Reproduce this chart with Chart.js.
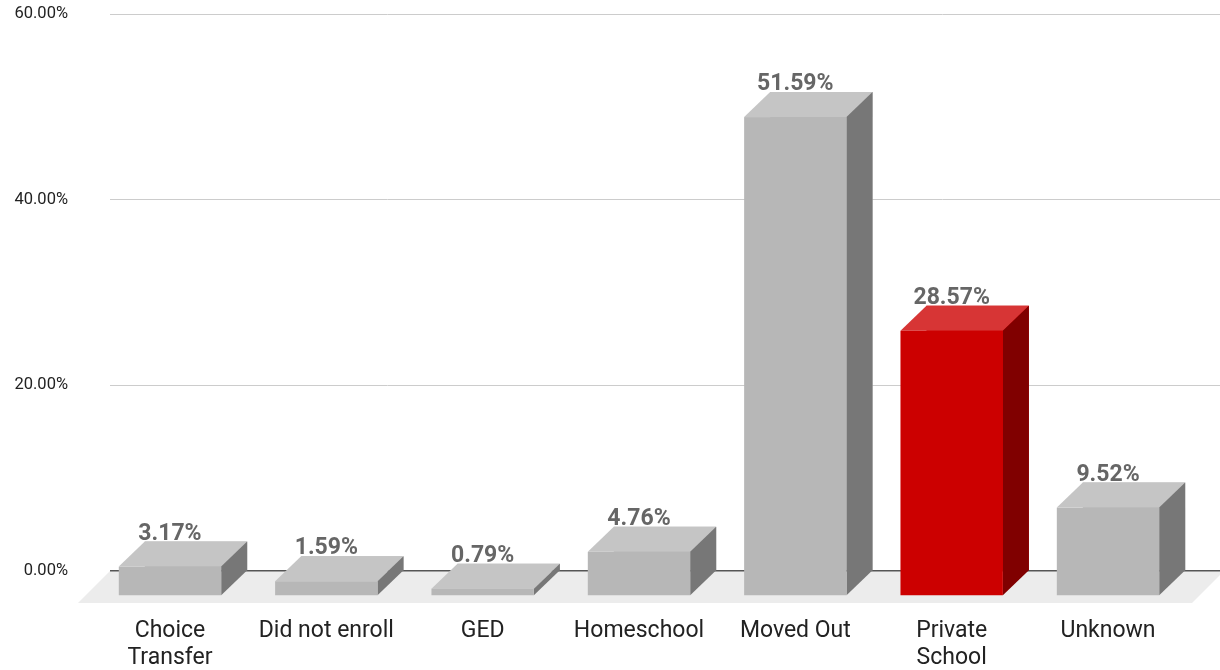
<!DOCTYPE html>
<html>
<head>
<meta charset="utf-8">
<script src="https://cdn.jsdelivr.net/npm/chart.js@4.4.1/dist/chart.umd.min.js"></script>
<style>
    html, body { margin: 0; padding: 0; background: #fff; }
    #wrap { width: 1220px; height: 670px; }
</style>
</head>
<body>
<div id="wrap"><canvas id="leavers_chart"></canvas></div>
<script>
// data
const categories = [['Choice', 'Transfer'], 'Did not enroll', 'GED', 'Homeschool', 'Moved Out', ['Private', 'School'], 'Unknown'];
const shares = [3.17, 1.59, 0.79, 4.76, 51.59, 28.57, 9.52];
const highlighted = [false, false, false, false, false, true, false];
const y_ticks = [0, 20, 40, 60];

// faces of the 3d boxes
const grey_faces = { front: '#b7b7b7', top: '#c5c5c5', side: '#777777' };
const red_faces = { front: '#cc0000', top: '#d73535', side: '#800000' };
const depth_x = 26, depth_y = 25;
const floor_depth = 32;

var floor_plugin = {
    id: 'floor',
    beforeDraw(chart) {
        const ctx = chart.ctx;
        const area = chart.chartArea;
        ctx.save();
        ctx.fillStyle = '#fff';
        ctx.fillRect(0, 0, chart.width, chart.height);
        ctx.fillStyle = '#ececec';
        ctx.beginPath();
        ctx.moveTo(area.left, area.bottom);
        ctx.lineTo(area.right + 4, area.bottom);
        ctx.lineTo(area.right + 4 - floor_depth, area.bottom + floor_depth);
        ctx.lineTo(area.left - floor_depth, area.bottom + floor_depth);
        ctx.closePath();
        ctx.fill();
        ctx.restore();
    }
};

var box_plugin = {
    id: 'boxes',
    afterDatasetsDraw(chart) {
        const ctx = chart.ctx;
        const bars = chart.getDatasetMeta(0).data;
        ctx.save();
        for (var i = 0; i < bars.length; i++) {
            const b = bars[i].getProps(['x', 'y', 'base', 'width'], true);
            const faces = highlighted[i] ? red_faces : grey_faces;
            const l = b.x - b.width / 2, r = b.x + b.width / 2;
            const t = b.y, bot = b.base;
            // top
            ctx.fillStyle = faces.top;
            ctx.beginPath();
            ctx.moveTo(l - depth_x, t + depth_y);
            ctx.lineTo(l, t);
            ctx.lineTo(r, t);
            ctx.lineTo(r - depth_x, t + depth_y);
            ctx.closePath();
            ctx.fill();
            // side
            ctx.fillStyle = faces.side;
            ctx.beginPath();
            ctx.moveTo(r - depth_x, t + depth_y);
            ctx.lineTo(r, t);
            ctx.lineTo(r, bot);
            ctx.lineTo(r - depth_x, bot + depth_y);
            ctx.closePath();
            ctx.fill();
            // front
            ctx.fillStyle = faces.front;
            ctx.fillRect(l - depth_x, t + depth_y, r - l, bot - t);
            // value label
            ctx.fillStyle = '#666666';
            ctx.font = 'bold 23px Roboto';
            ctx.textAlign = 'center';
            ctx.textBaseline = 'alphabetic';
            ctx.fillText(shares[i].toFixed(2) + '%', b.x - depth_x, t - 2);
        }
        ctx.restore();
    }
};

const ctx = document.getElementById('leavers_chart');
var leavers_chart = new Chart(ctx, {
    type: 'bar',
    data: {
        datasets: [{
            data: shares.map((v, i) => ({ x: i, y: v })),
            backgroundColor: highlighted.map(h => h ? red_faces.front : grey_faces.front),
            borderWidth: 0,
            barPercentage: 0.655,
            categoryPercentage: 1
        }]
    },
    options: {
        responsive: true,
        maintainAspectRatio: false,
        animation: false,
        layout: {
            padding: { top: 14, left: 13, right: 0, bottom: 0 }
        },
        scales: {
            x: {
                type: 'linear',
                offset: false,
                min: -0.55,
                max: 6.55,
                afterBuildTicks: axis => { axis.ticks = categories.map((c, i) => ({ value: i })); },
                afterFit: axis => {
                    axis.height = 99;
                    axis.paddingLeft = 0;
                    axis.paddingRight = 0;
                },
                grid: { display: false, drawTicks: false },
                border: { display: false },
                ticks: {
                    autoSkip: false,
                    maxRotation: 0,
                    padding: 47,
                    labelOffset: -depth_x,
                    color: '#222222',
                    font: { family: 'Roboto', size: 23, lineHeight: 1.18 },
                    callback: v => categories[v]
                }
            },
            y: {
                min: 0,
                max: 60,
                afterBuildTicks: axis => { axis.ticks = y_ticks.map(v => ({ value: v })); },
                afterFit: axis => {
                    axis.width = 97;
                    axis.paddingTop = 0;
                    axis.paddingBottom = 0;
                },
                grid: {
                    drawTicks: false,
                    color: c => c.tick && c.tick.value === 0 ? '#555555' : '#cccccc',
                    lineWidth: c => c.tick && c.tick.value === 0 ? 1.5 : 1
                },
                border: { display: false },
                ticks: {
                    padding: 42,
                    color: '#222222',
                    font: { family: 'Roboto', size: 16.5 },
                    callback: v => v.toFixed(2) + '%'
                }
            }
        },
        plugins: {
            legend: false,
            tooltip: { enabled: false }
        }
    },
    plugins: [floor_plugin, box_plugin]
});
</script>
</body>
</html>
